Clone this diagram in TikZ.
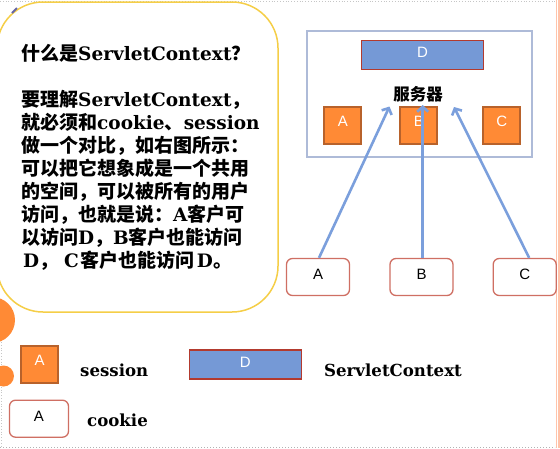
\documentclass[tikz,border=0pt]{standalone}
\usepackage{fontspec}
\setmainfont{DejaVu Serif}
\newfontfamily\cjk{Noto Sans CJK SC}
\newfontfamily\uisans{Liberation Sans}
\usetikzlibrary{arrows.meta}
\definecolor{orangeF}{HTML}{FF8A35}
\definecolor{orangeD}{HTML}{B8622B}
\definecolor{blueF}{HTML}{7599D6}
\definecolor{redD}{HTML}{B33A2E}
\definecolor{arrowB}{HTML}{7B9FDC}
\definecolor{clientD}{HTML}{CF6F63}
\definecolor{serverD}{HTML}{AEBBD8}
\definecolor{yellowD}{HTML}{F5CE47}
\definecolor{pinkL}{HTML}{FFC3AA}
\newcommand\Z[1]{{\cjk\bfseries\fontsize{19}{20}\selectfont #1}}
\newcommand\up[2]{\raisebox{#1pt}[\height][\depth]{#2}}
\tikzset{
  sessbox/.style={draw=orangeD, line width=2pt, fill=orangeF, minimum width=37pt, minimum height=37pt, inner sep=0pt, text=white, font=\uisans\fontsize{15}{15}\selectfont},
  ctxbox/.style={draw=redD, line width=1.2pt, fill=blueF, minimum width=122pt, minimum height=29pt, inner sep=0pt, text=white, font=\uisans\fontsize{15}{15}\selectfont},
  clientbox/.style={draw=clientD, line width=1.3pt, fill=white, rounded corners=6pt, minimum width=63pt, minimum height=37pt, inner sep=0pt, font=\uisans\fontsize{15}{15}\selectfont},
  body/.style={anchor=base west, inner sep=0pt, font=\bfseries\fontsize{18.5}{20}\selectfont},
  legendtxt/.style={anchor=base west, inner sep=0pt, font=\bfseries\fontsize{16.6}{20}\selectfont},
  arr/.style={draw=arrowB, line width=2.6pt, -{Straight Barb[length=5pt,width=11pt]}}
}
\begin{document}
\begin{tikzpicture}[x=1pt,y=-1pt]
\useasboundingbox (0,0) rectangle (560,448);
% slide decorations
\draw[gray!45, dotted, line width=0.8pt] (0,1) -- (555,1);
\draw[gray!45, dotted, line width=0.8pt] (1.5,300) -- (1.5,447);
\draw[gray!60, dotted, line width=1pt] (0,447) -- (555,447);
\draw[pinkL, line width=1.7pt] (556.5,0) -- (556.5,448);
\draw[pinkL, line width=1.7pt] (559.3,0) -- (559.3,448);
\fill[orangeF] (-8,320) circle (23);
\fill[orangeF] (3.5,376) circle (10.5);
% text box
\draw[yellowD, line width=1.5pt, fill=white, rounded corners=46pt] (-3,2) rectangle (278,312);
\draw[black!60!blue!60, line width=2pt] (12,13) -- (17,8);
\node[body] (t0) at (21,60) {\Z{什么是}ServletContext\Z{？}};
\node[body] (t1) at (21,106) {\Z{要理解}ServletContext\Z{，}};
\node[body] (t2) at (21,129) {\Z{就必须和}cookie\Z{、}session};
\node[body] (t3) at (21,152) {\Z{做一个对比，如右图所示：}};
\node[body] (t4) at (21,175) {\Z{可以把它想象成是一个共用}};
\node[body] (t5) at (21,198) {\Z{的空间，可以被所有的用户}};
\node[body] (t6) at (21,221) {\Z{访问，也就是说：}A\Z{客户可}};
\node[body] (t7) at (21,244) {\Z{以访问}D\Z{，}B\Z{客户也能访问}};
\node[body] (t8) at (23,267) {D\Z{，}\hspace{6pt}C\hspace{2pt}\Z{客户也能访问}\hspace{2pt}D\Z{。}};
% server
\draw[serverD, line width=1.2pt] (307,31) rectangle (532,157);
\node[ctxbox] (D) at (422.5,55) {\up{3}{D}};
\node[inner sep=0pt, font=\cjk\bfseries\fontsize{16.5}{17}\selectfont] (srv) at (418,94) {服务器};
\node[sessbox] (sA) at (342.8,125.2) {\up{4}{A}};
\node[sessbox] (sB) at (418.8,125.2) {\up{4}{B}};
\node[sessbox] (sC) at (501.8,125.2) {\up{4}{C}};
% clients
\node[clientbox] (cA) at (318,277) {\up{2.5}{A}};
\node[clientbox] (cB) at (421.5,277) {\up{2.5}{B}};
\node[clientbox] (cC) at (524.7,277) {\up{2.5}{C}};
\coordinate (tA) at (389.5,106.5);
\coordinate (tB) at (422.7,105);
\coordinate (tC) at (454,107);
\draw[arr] ([xshift=1pt]cA.north) -- (tA);
\draw[arr] ([xshift=1.2pt]cB.north) -- (tB);
\draw[arr] ([xshift=4.5pt]cC.north) -- (tC);
% legend
\node[sessbox] (lS) at (39.7,364.8) {\up{4}{A}};
\node[legendtxt] (lSt) at (80,376) {session};
\node[ctxbox, minimum width=112pt] (lD) at (245.4,364.5) {\up{2.5}{D}};
\node[legendtxt] (lDt) at (324,376) {ServletContext};
\node[clientbox, minimum width=59pt] (lC) at (39,418.7) {\up{2.7}{A}};
\node[legendtxt] (lCt) at (87,426) {cookie};
\end{tikzpicture}
\end{document}
